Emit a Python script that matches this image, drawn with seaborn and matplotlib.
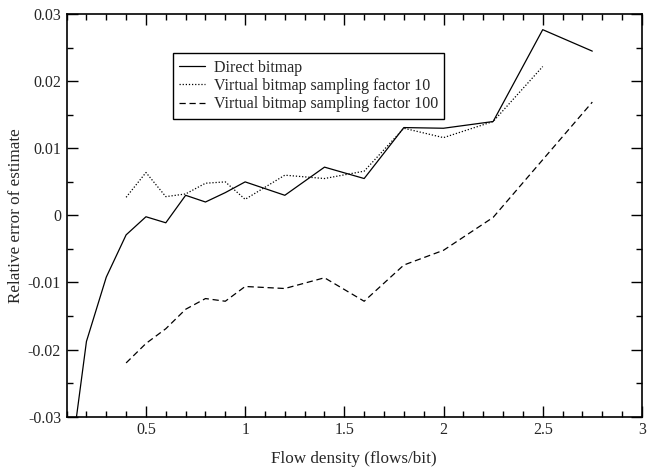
import matplotlib
matplotlib.use("Agg")

import matplotlib.pyplot as plt
from matplotlib.ticker import MultipleLocator
import seaborn as sns
import pandas as pd

# Data
direct_x = [0.15, 0.2, 0.3, 0.4, 0.5, 0.6, 0.7, 0.8, 0.9, 1.0, 1.2, 1.4, 1.6, 1.8, 2.0, 2.25, 2.5, 2.75]
direct_y = [-0.030, -0.0188, -0.0092, -0.0029, -0.0002, -0.0011, 0.0030, 0.0020, 0.0034, 0.0050,
            0.0030, 0.0072, 0.0055, 0.0131, 0.0130, 0.0140, 0.0277, 0.0245]

virt10_x = [0.4, 0.5, 0.6, 0.7, 0.8, 0.9, 1.0, 1.2, 1.4, 1.6, 1.8, 2.0, 2.25, 2.5]
virt10_y = [0.0027, 0.0064, 0.0028, 0.0032, 0.0048, 0.0050, 0.0024, 0.0060, 0.0055, 0.0066,
            0.0130, 0.0116, 0.0140, 0.0222]

virt100_x = [0.4, 0.5, 0.6, 0.7, 0.8, 0.9, 1.0, 1.2, 1.4, 1.6, 1.8, 2.0, 2.25, 2.5, 2.75]
virt100_y = [-0.0220, -0.0191, -0.0169, -0.0140, -0.0124, -0.0128, -0.0106, -0.0109, -0.0093,
             -0.0128, -0.0074, -0.0052, -0.0003, 0.0083, 0.0169]

series_names = ["Direct bitmap",
                "Virtual bitmap sampling factor 10",
                "Virtual bitmap sampling factor 100"]

x_ticks = [0.5, 1, 1.5, 2, 2.5, 3]
x_tick_labels = ["0.5", "1", "1.5", "2", "2.5", "3"]
y_ticks = [-0.03, -0.02, -0.01, 0, 0.01, 0.02, 0.03]
y_tick_labels = ["-0.03", "-0.02", "-0.01", "0", "0.01", "0.02", "0.03"]

df = pd.concat([
    pd.DataFrame({"x": direct_x, "y": direct_y, "series": series_names[0]}),
    pd.DataFrame({"x": virt10_x, "y": virt10_y, "series": series_names[1]}),
    pd.DataFrame({"x": virt100_x, "y": virt100_y, "series": series_names[2]}),
], ignore_index=True)

sns.set_style("ticks")
plt.rcParams["font.family"] = ["Liberation Serif", "DejaVu Serif"]

fig, ax = plt.subplots(figsize=(6.53, 4.75), dpi=100)
fig.subplots_adjust(left=0.102, right=0.983, top=0.970, bottom=0.123)

sns.lineplot(data=df, x="x", y="y", hue="series", style="series",
             hue_order=series_names, style_order=series_names,
             palette=["black"] * 3,
             dashes=[(None, None), (1, 1.5), (5, 3)],
             linewidth=0.9, sort=False, estimator=None, ax=ax)

ax.set_xlim(0.1, 3)
ax.set_ylim(-0.03, 0.03)
ax.xaxis.set_minor_locator(MultipleLocator(0.1))
ax.yaxis.set_minor_locator(MultipleLocator(0.005))
ax.set_xticks(x_ticks)
ax.set_xticklabels(x_tick_labels)
ax.set_yticks(y_ticks)
ax.set_yticklabels(y_tick_labels)

ax.tick_params(which="both", top=True, right=True, direction="in", labelsize=11.5,
               width=1, color="black")
ax.tick_params(which="major", length=8, pad=4)
ax.tick_params(which="minor", length=4)
for sp in ax.spines.values():
    sp.set_linewidth(1.2)
    sp.set_color("black")

ax.set_xlabel("Flow density (flows/bit)", fontsize=12.3, labelpad=9)
ax.set_ylabel("Relative error of estimate", fontsize=12.3, labelpad=3)

leg = ax.legend(loc="upper left", bbox_to_anchor=(0.185, 0.903), fontsize=11.5,
                frameon=True, fancybox=False, edgecolor="black", framealpha=1,
                handlelength=1.6, handletextpad=0.55, borderpad=0.4,
                labelspacing=0.15, borderaxespad=0, title=None)
leg.get_frame().set_linewidth(1.0)

fig.savefig("out.png", dpi=100)
